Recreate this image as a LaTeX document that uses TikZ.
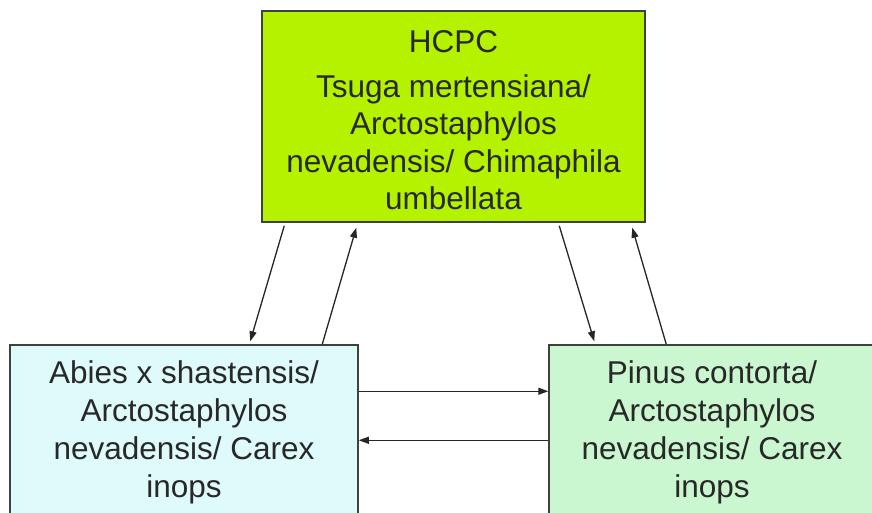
\documentclass[tikz,border=0pt]{standalone}
\usepackage{fontspec}
\setmainfont{Liberation Sans}
\usetikzlibrary{arrows.meta}
\definecolor{topfill}{RGB}{180,242,0}
\definecolor{leftfill}{RGB}{222,250,250}
\definecolor{rightfill}{RGB}{202,246,208}
\definecolor{edgecol}{RGB}{60,66,60}
\definecolor{txtcol}{RGB}{40,40,40}
\tikzset{
  boxnode/.style={draw=edgecol, line width=1.5pt, rectangle, align=center, inner sep=0pt,
    text=txtcol, font=\fontsize{31.5}{38}\selectfont},
  conn/.style={draw=black!85, line width=1.3pt, -{Triangle[length=10pt,width=7pt]}}
}
\begin{document}
\begin{tikzpicture}[x=1pt,y=-1pt]
\useasboundingbox (0,0) rectangle (872,512);
\clip (0,0) rectangle (872,512);
\fill[white] (0,0) rectangle (872,512);
\node[boxnode, fill=topfill, minimum width=383pt, minimum height=211pt,
  font=\fontsize{31.5}{37.5}\selectfont] (top) at (453.5,116.5)
  {\rule{0pt}{29pt}HCPC\\[7.5pt]Tsuga mertensiana/\\Arctostaphylos\\nevadensis/ Chimaphila\\umbellata};
\node[boxnode, fill=leftfill, minimum width=348pt, minimum height=175pt] (left) at (184,432.5)
  {Abies x shastensis/\\Arctostaphylos\\nevadensis/ Carex\\inops};
\node[boxnode, fill=rightfill, minimum width=326pt, minimum height=175pt] (right) at (712,432.5)
  {Pinus contorta/\\Arctostaphylos\\nevadensis/ Carex\\inops};
\draw[conn] ([xshift=23pt,yshift=-3pt]top.south west) -- ([xshift=241pt,yshift=3pt]left.north west);
\draw[conn] ([xshift=313pt]left.north west) -- ([xshift=95pt,yshift=-5pt]top.south west);
\draw[conn] ([xshift=298pt,yshift=-3pt]top.south west) -- ([xshift=46pt,yshift=3pt]right.north west);
\draw[conn] ([xshift=118pt]right.north west) -- ([xshift=371pt,yshift=-5pt]top.south west);
\draw[conn] ([yshift=-47pt]left.north east) -- ([yshift=-47pt]right.north west);
\draw[conn] ([yshift=-96pt]right.north west) -- ([yshift=-96pt]left.north east);
\end{tikzpicture}
\end{document}
